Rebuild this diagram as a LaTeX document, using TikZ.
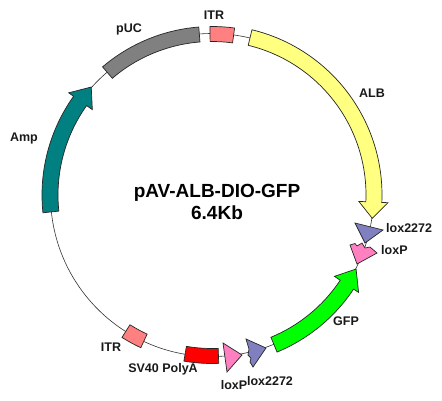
\documentclass[tikz,border=0pt]{standalone}
\usepackage{fontspec}
\setmainfont{Liberation Sans}
\definecolor{itrc}{HTML}{FF8080}
\definecolor{loxb}{HTML}{8080C0}
\definecolor{loxp}{HTML}{FF80C0}
\definecolor{albc}{HTML}{FFFF80}
\definecolor{pucc}{HTML}{808080}
\definecolor{ampc}{HTML}{008080}
\definecolor{gfpc}{HTML}{00FF00}
\newcommand{\bandshape}[3]{% start angle, end angle, colour
  \draw[part,fill=#3] (#1:168.5pt) arc[start angle=#1,end angle=#2,radius=168.5pt]
    -- (#2:153.5pt) arc[start angle=#2,end angle=#1,radius=153.5pt] -- cycle;}
\newcommand{\arrowshape}[4]{% start angle, head base angle, tip angle, colour
  \draw[part,fill=#4] (#1:170pt) arc[start angle=#1,end angle=#2,radius=170pt]
    -- (#2:176pt) -- (#3:162pt) -- (#2:147pt) -- (#2:154pt)
    arc[start angle=#2,end angle=#1,radius=154pt] -- cycle;}
\tikzset{
  part/.style={draw=black!85,line width=0.7pt,line join=miter},
  lab/.style={font=\fontsize{12.5}{14}\selectfont\bfseries,text=black!90,inner sep=0pt},
  titlelab/.style={font=\fontsize{19}{22}\selectfont\bfseries,text=black,align=center,inner sep=0pt}
}
\begin{document}
\begin{tikzpicture}[x=1pt,y=-1pt]
\useasboundingbox[fill=white] (0,0) rectangle (442,400);
\begin{scope}[shift={(212,195)}]
  \draw[black!80,line width=0.6pt] (0,0) circle[radius=161.5pt];
  \bandshape{94.5}{130.5}{pucc}
  \bandshape{82.3}{90.7}{itrc}
  \bandshape{237.7}{245}{itrc}
  \bandshape{260.4}{272.3}{red}
  \arrowshape{76.4}{-2.5}{-8.3}{albc}
  \arrowshape{-67.5}{-33.6}{-27.2}{gfpc}
  \arrowshape{186}{144.5}{138.2}{ampc}
\end{scope}
\draw[part,fill=loxb] (355,223) -- (383,230) -- (365,243) -- cycle;
\draw[part,fill=loxp] (350,245) -- (355,243.5) -- (357,246) -- (362,243) -- (365,248) -- (370,247) -- (377,253) -- (357,264) -- cycle;
\draw[part,fill=loxb] (246,339) -- (266,348) -- (253,367) -- (250,362) -- (251,358) -- (248,355) -- (249,349) -- cycle;
\draw[part,fill=loxp] (223,343) -- (242,355) -- (227,372) -- cycle;
\node[titlelab] (title) at (217,202) {pAV-ALB-DIO-GFP\\6.4Kb};
\node[lab,anchor=west] (l1) at (386,228) {lox2272};
\node[lab,anchor=west] (l2) at (381,250) {loxP};
\node[lab] (alb) at (372,93) {ALB};
\node[lab] (gfp) at (346,321) {GFP};
\node[lab] (sv) at (163,369) {SV40 PolyA};
\node[lab] (l3) at (234,385) {loxP};
\node[lab] (l4) at (270,381) {lox2272};
\node[lab] (itr1) at (111,347) {ITR};
\node[lab] (itr2) at (214,15) {ITR};
\node[lab] (puc) at (129,29) {pUC};
\node[lab] (amp) at (24,138) {Amp};
\end{tikzpicture}
\end{document}
